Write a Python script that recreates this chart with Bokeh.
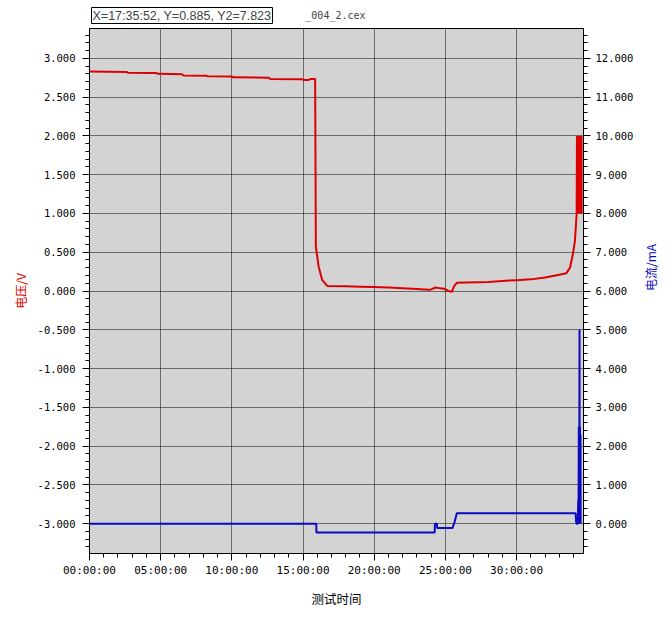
import math
from bokeh.plotting import figure
from bokeh.layouts import column
from bokeh.models import Range1d, LinearAxis, FixedTicker, PrintfTickFormatter, Label
from bokeh.embed import file_html
from bokeh.resources import INLINE

# ---- data (time in hours) ----
time_v = [0.0, 2.6, 2.7, 4.7, 4.8, 6.5, 6.6, 8.2, 8.3, 10.0, 10.1, 12.6, 12.7, 14.9, 15.1,
          15.4, 15.5, 15.85, 15.9, 16.1, 16.35, 16.7, 18.0, 19.0, 20.0, 21.0, 22.0, 23.0,
          23.8, 24.0, 24.3, 24.5, 24.9, 25.2, 25.45, 25.6, 25.8, 26.5, 28.0, 29.0, 30.0,
          31.0, 32.0, 33.0, 33.5, 33.75, 33.95, 34.1, 34.22, 34.24, 34.26, 34.28, 34.30,
          34.32, 34.34, 34.36, 34.38, 34.40, 34.42, 34.44, 34.46, 34.48, 34.50, 34.52,
          34.54, 34.56, 34.57]
volt = [2.83, 2.825, 2.815, 2.81, 2.80, 2.795, 2.78, 2.775, 2.77, 2.765, 2.755, 2.75, 2.735,
        2.73, 2.72, 2.72, 2.735, 2.735, 0.57, 0.31, 0.14, 0.065, 0.06, 0.055, 0.05, 0.045,
        0.035, 0.025, 0.015, 0.02, 0.045, 0.04, 0.03, 0.0, -0.01, 0.06, 0.105, 0.11, 0.115,
        0.13, 0.14, 0.15, 0.175, 0.21, 0.23, 0.30, 0.47, 0.65, 1.0, 2.0, 1.02, 1.98, 1.0,
        2.0, 1.05, 1.95, 1.0, 2.0, 1.0, 1.97, 1.02, 2.0, 1.0, 1.98, 1.0, 2.0, 1.0]

time_i = [0.0, 15.93, 15.94, 24.25, 24.26, 24.4, 24.42, 25.5, 25.65, 25.8, 34.15, 34.18,
          34.22, 34.3, 34.33, 34.35, 34.37, 34.39, 34.41, 34.42, 34.43, 34.45, 34.47,
          34.49, 34.5]
curr = [0.0, 0.0, -0.23, -0.23, 0.0, 0.0, -0.11, -0.11, 0.05, 0.27, 0.27, 0.05, 0.0, 0.0,
        0.6, 0.0, 2.5, 0.0, 2.4, 5.0, 0.0, 2.5, 0.0, 2.3, 0.0]

x_major = [0, 5, 10, 15, 20, 25, 30]
x_labels = ["00:00:00", "05:00:00", "10:00:00", "15:00:00", "20:00:00", "25:00:00", "30:00:00"]
v_major = [-3.0, -2.5, -2.0, -1.5, -1.0, -0.5, 0.0, 0.5, 1.0, 1.5, 2.0, 2.5, 3.0]
i_major = [0, 1, 2, 3, 4, 5, 6, 7, 8, 9, 10, 11, 12]

title_text = "X=17:35:52, Y=0.885, Y2=7.823"
file_text = "_004_2.cex"
file_text_x = 15.16   # hours, where the file name starts
x_title = "测试时间"
v_title = "电压/V"
i_title = "电流/mA"

X_MAX = 34.7
V_MIN, V_MAX = -3.385, 3.385
I_MIN, I_MAX = -0.77, 12.77

RED = "#dd0000"
BLUE = "#0a0ac0"
TICK_FONT = "DejaVu Sans Mono"
CJK = "Noto Sans CJK SC"
W = 670
HEAD_H = 28

xr = Range1d(0, X_MAX)

# ---- header strip (frame aligned with the main chart's frame) ----
head = figure(width=W, height=HEAD_H, x_range=xr, y_range=Range1d(HEAD_H, 0),
              x_axis_type=None, y_axis_type=None, output_backend="svg",
              toolbar_location=None, min_border=0, outline_line_color=None,
              background_fill_color="white", border_fill_color="white")
head.add_layout(Label(x=0, y=15, x_offset=2, text=title_text,
                      text_font="Liberation Sans", text_font_size="12.5px",
                      text_baseline="middle", text_align="left",
                      border_line_color="black", border_line_width=1,
                      background_fill_color="white", padding=1))
head.add_layout(Label(x=file_text_x, y=15, text=file_text,
                      text_font=TICK_FONT, text_font_size="10px",
                      text_baseline="middle", text_align="left"))

# ---- main chart ----
p = figure(width=W, height=605, x_range=xr, y_range=Range1d(V_MIN, V_MAX),
           output_backend="svg", toolbar_location=None,
           min_border_left=89, min_border_right=87, min_border_top=0, min_border_bottom=80,
           background_fill_color="#d3d3d3", border_fill_color="white",
           outline_line_color="black")
p.extra_y_ranges = {"cur": Range1d(I_MIN, I_MAX)}
raxis = LinearAxis(y_range_name="cur")
p.add_layout(raxis, "right")

xa = p.xaxis[0]
xa.ticker = FixedTicker(ticks=x_major, minor_ticks=list(range(0, 35)))
xa.major_label_overrides = {t: s for t, s in zip(x_major, x_labels)}
ya = p.yaxis[0]
ya.ticker = FixedTicker(ticks=v_major, minor_ticks=[round(-3.3 + 0.1 * k, 2) for k in range(67)])
ya.formatter = PrintfTickFormatter(format="%.3f")
raxis.ticker = FixedTicker(ticks=i_major, minor_ticks=[round(-0.6 + 0.2 * k, 2) for k in range(67)])
raxis.formatter = PrintfTickFormatter(format="%.3f")

for ax in (xa, ya, raxis):
    ax.axis_line_color = "black"
    ax.major_tick_line_color = "black"
    ax.minor_tick_line_color = "black"
    ax.major_tick_in = 0
    ax.major_tick_out = 7
    ax.minor_tick_in = 0
    ax.minor_tick_out = 4
    ax.major_label_text_font = TICK_FONT
    ax.major_label_text_color = "black"
    ax.axis_label_text_font = CJK
    ax.axis_label_text_font_style = "normal"
    ax.axis_label_text_font_size = "12px"

xa.major_label_text_font_size = "11px"
xa.major_label_standoff = 3
xa.axis_label = x_title
xa.axis_label_text_color = "black"
xa.axis_label_standoff = 9
xa.axis_label_text_font_size = "12.5px"

ya.major_label_text_font_size = "10.5px"
ya.major_label_standoff = 7
ya.axis_label = v_title
ya.axis_label_text_color = RED
ya.axis_label_standoff = 6

raxis.major_label_text_font_size = "10.5px"
raxis.major_label_standoff = 5
raxis.axis_label = i_title
raxis.axis_label_text_color = BLUE
raxis.axis_label_standoff = 14
raxis.axis_label_orientation = math.pi / 2

p.xgrid.ticker = FixedTicker(ticks=x_major)
p.ygrid.ticker = FixedTicker(ticks=v_major)
for g in (p.xgrid, p.ygrid):
    g.grid_line_color = "black"
    g.grid_line_dash = "1 1"
    g.grid_line_alpha = 1.0

p.line(time_v, volt, line_color=RED, line_width=2)
p.line(time_i, curr, line_color=BLUE, line_width=2, y_range_name="cur")

layout = column(head, p, spacing=0)
open("out.html", "w").write(file_html(layout, INLINE))
